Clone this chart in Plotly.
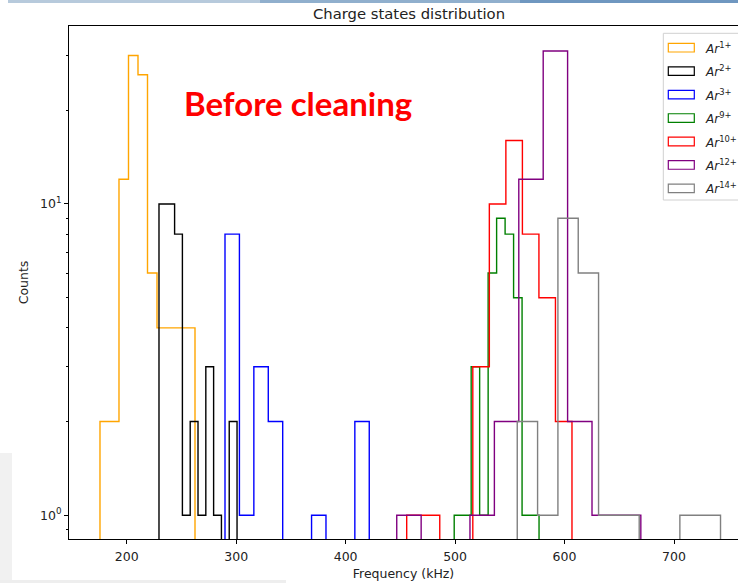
import numpy as np
import plotly.graph_objects as go

# ---------------- data ----------------
series_names = ["Ar1+", "Ar2+", "Ar3+", "Ar9+", "Ar10+", "Ar12+", "Ar14+"]
legend_labels = ["<i>Ar</i><sup>1+</sup>", "<i>Ar</i><sup>2+</sup>", "<i>Ar</i><sup>3+</sup>",
                 "<i>Ar</i><sup>9+</sup>", "<i>Ar</i><sup>10+</sup>", "<i>Ar</i><sup>12+</sup>",
                 "<i>Ar</i><sup>14+</sup>"]
colors = ["orange", "black", "blue", "green", "red", "purple", "gray"]

# histogram range (kHz) of each species, 10 bins each
ar1_range = (175.6, 262.4)
ar2_range = (229.5, 300.8)
ar3_range = (289.8, 421.6)
ar9_range = (499.2, 576.7)
ar10_range = (455.8, 606.8)
ar12_range = (446.7, 669.7)
ar14_range = (556.8, 742.5)

# counts per bin
ar1_counts = [2, 2, 12, 30, 26, 6, 4, 4, 4, 4]
ar2_counts = [10, 10, 8, 1, 2, 1, 3, 1, 0, 2]
ar3_counts = [8, 1, 3, 2, 0, 0, 1, 0, 0, 2]
ar9_counts = [1, 1, 3, 1, 6, 9, 8, 5, 1, 1]
ar10_counts = [1, 1, 0, 0, 3, 10, 16, 8, 5, 2]
ar12_counts = [1, 0, 0, 1, 2, 12, 31, 2, 1, 1]
ar14_counts = [2, 1, 9, 6, 1, 1, 0, 0, 1, 1]

x_ticks = [200, 300, 400, 500, 600, 700]
y_ticks = [1, 10]
y_ticktext = ["10<sup>0</sup>", "10<sup>1</sup>"]

ranges = [ar1_range, ar2_range, ar3_range, ar9_range, ar10_range, ar12_range, ar14_range]
counts = [ar1_counts, ar2_counts, ar3_counts, ar9_counts, ar10_counts, ar12_counts, ar14_counts]

# ---------------- figure ----------------
W, H = 738, 583
ML, MR, MT, MB = 69, 0, 26, 44
PW, PH = W - ML - MR, H - MT - MB


def px(x):
    return (x - ML) / PW


def py(y):
    return (H - MB - y) / PH


FLOOR = 0.5  # empty bins drop below the visible axis (log scale)

fig = go.Figure()
for name, col, (lo, hi), c in zip(series_names, colors, ranges, counts):
    edges = np.linspace(lo, hi, len(c) + 1)
    xs, ys = [edges[0]], [FLOOR]
    for i, v in enumerate(c):
        val = v if v > 0 else FLOOR
        xs += [edges[i], edges[i + 1]]
        ys += [val, val]
    xs.append(edges[-1])
    ys.append(FLOOR)
    fig.add_trace(go.Scatter(x=xs, y=ys, mode="lines", name=name,
                             line=dict(color=col, width=1.4),
                             showlegend=False, hoverinfo="skip"))

# x range from pixel calibration (200 kHz at 126.7 px, 1.0946 px/kHz)
x0 = 200 + (ML - 126.7) / 1.0946
x1 = 200 + (W - MR - 126.7) / 1.0946

TXT = "#222"
fig.update_layout(
    width=W, height=H,
    margin=dict(l=ML, r=MR, t=MT, b=MB, pad=0, autoexpand=False),
    paper_bgcolor="white", plot_bgcolor="white",
    font=dict(family="DejaVu Sans", color="black", size=12),
    showlegend=False,
    title=dict(text="Charge states distribution", x=px(409), xanchor="center",
               xref="paper", y=1 - 13.5 / H, yanchor="middle",
               font=dict(size=14.8, family="DejaVu Sans", color=TXT)),
    xaxis=dict(range=[x0, x1], tickvals=x_ticks, ticks="outside", ticklen=4,
               tickcolor="black", showline=True, linecolor="black", linewidth=1,
               mirror=True, showgrid=False, zeroline=False, automargin=False,
               ticklabelstandoff=2,
               tickfont=dict(size=12.5, family="DejaVu Sans", color=TXT),
               title=dict(text="Frequency (kHz)", standoff=6,
                          font=dict(size=12.5, family="DejaVu Sans", color=TXT))),
    yaxis=dict(type="log", range=[-0.0762, 1.5717], tickvals=y_ticks, ticktext=y_ticktext,
               ticks="outside", ticklen=4, tickcolor="black", showline=True,
               linecolor="black", linewidth=1, showgrid=False, zeroline=False,
               automargin=False,
               tickfont=dict(size=12.5, family="DejaVu Sans", color=TXT),
               minor=dict(ticks="outside", ticklen=2.5, tickcolor="black",
                          tickvals=[0.9, 2, 3, 4, 5, 6, 7, 8, 9, 20, 30], showgrid=False),
               title=dict(text="Counts", standoff=8,
                          font=dict(size=12.5, family="DejaVu Sans", color=TXT))),
)

# annotation text
fig.add_annotation(x=px(298), y=py(103), xref="paper", yref="paper",
                   text="<b>Before cleaning</b>", showarrow=False,
                   font=dict(family="Lato", size=33, color="red"),
                   xanchor="center", yanchor="middle")

# manual legend (outlined patches like matplotlib)
shapes = [dict(type="rect", xref="paper", yref="paper", x0=px(663.3), x1=px(760),
               y0=py(200), y1=py(33.3), line=dict(color="#d0d0d0", width=1),
               fillcolor="rgba(255,255,255,0.8)", layer="above")]
for i, (lab, col) in enumerate(zip(legend_labels, colors)):
    cy = 47.7 + 23.45 * i
    shapes.append(dict(type="rect", xref="paper", yref="paper",
                       x0=px(668.3), x1=px(694.3), y0=py(cy + 4.3), y1=py(cy - 4.3),
                       line=dict(color=col, width=1.2), fillcolor="rgba(0,0,0,0)",
                       layer="above"))
    fig.add_annotation(x=px(703), y=py(cy), xref="paper", yref="paper", text=lab,
                       showarrow=False, xanchor="left", yanchor="middle",
                       font=dict(size=12, family="DejaVu Sans", color=TXT))

# screenshot surroundings
shapes += [
    dict(type="rect", xref="paper", yref="paper", x0=px(8), x1=px(260), y0=py(0), y1=py(3),
         line=dict(width=0), fillcolor="#b7cadc", layer="below"),
    dict(type="rect", xref="paper", yref="paper", x0=px(260), x1=px(520), y0=py(0), y1=py(3),
         line=dict(width=0), fillcolor="#90afcd", layer="below"),
    dict(type="rect", xref="paper", yref="paper", x0=px(520), x1=px(738), y0=py(0), y1=py(3),
         line=dict(width=0), fillcolor="#6f97c0", layer="below"),
    dict(type="rect", xref="paper", yref="paper", x0=px(0), x1=px(12), y0=py(583), y1=py(453),
         line=dict(width=0), fillcolor="#f1f1f1", layer="below"),
    dict(type="rect", xref="paper", yref="paper", x0=px(0), x1=px(286), y0=py(583), y1=py(580),
         line=dict(width=0), fillcolor="#eeeeee", layer="below"),
]
fig.update_layout(shapes=shapes)

# remove the browser's default page margin so the figure sits at the window origin
fig.write_html("out.html",
               config={"displayModeBar": False},
               post_script="document.body.style.margin='0px';"
                           "document.body.style.overflow='hidden';")
